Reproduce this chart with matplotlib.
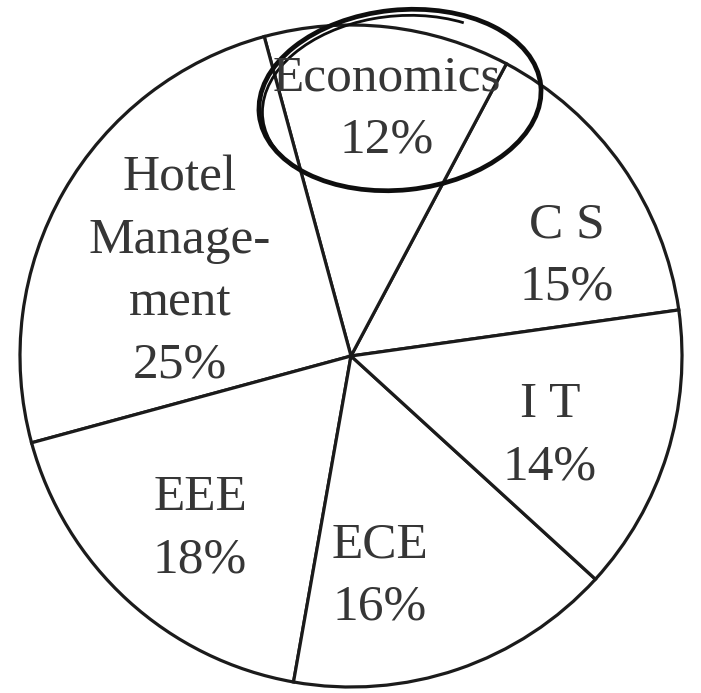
import matplotlib
matplotlib.use("Agg")
import matplotlib.pyplot as plt
from matplotlib.patches import Ellipse, Arc

# Share of students by department (%), counter-clockwise from the CS/IT edge
departments = ["C S", "Economics", "Hotel\nManage-\nment", "EEE", "ECE", "I T"]
shares = [15, 12, 25, 18, 16, 14]
highlighted = "Economics"

W, H = 701, 693
fig = plt.figure(figsize=(W / 100, H / 100), dpi=100)
ax = fig.add_axes([0, 0, 1, 1])

centre = (351, 337)
radius = 331
ink = "#1b1b1b"
text_ink = "#363636"

ax.pie(shares, center=centre, radius=radius, startangle=8, counterclock=True,
       wedgeprops=dict(facecolor="white", edgecolor=ink, linewidth=2.3))

# label anchors (x, y in figure pixels, y measured upward)
label_pos = {
    "C S": (567, 437),
    "Economics": (387, 584),
    "Hotel\nManage-\nment": (180, 421),
    "EEE": (200, 164),
    "ECE": (380, 117),
    "I T": (550, 257),
}

for name, share in zip(departments, shares):
    x, y = label_pos[name]
    ax.text(x, y, f"{name}\n{share}%", ha="center", va="center",
            fontsize=37, family="Liberation Serif", color=text_ink,
            linespacing=1.45)
    if name == highlighted:
        ex, ey = x + 13, y + 9
        ax.add_patch(Ellipse((ex, ey), 283, 180, angle=6, fill=False,
                             edgecolor="#0e0e0e", linewidth=3.4))
        ax.add_patch(Arc((ex - 2, ey - 4), 272, 176, angle=6, theta1=45,
                         theta2=205, edgecolor="#0e0e0e", linewidth=2.0))

ax.set_xlim(0, W)
ax.set_ylim(0, H)
ax.set_aspect("equal")
ax.axis("off")
fig.savefig("out.png", dpi=100, facecolor="white")
